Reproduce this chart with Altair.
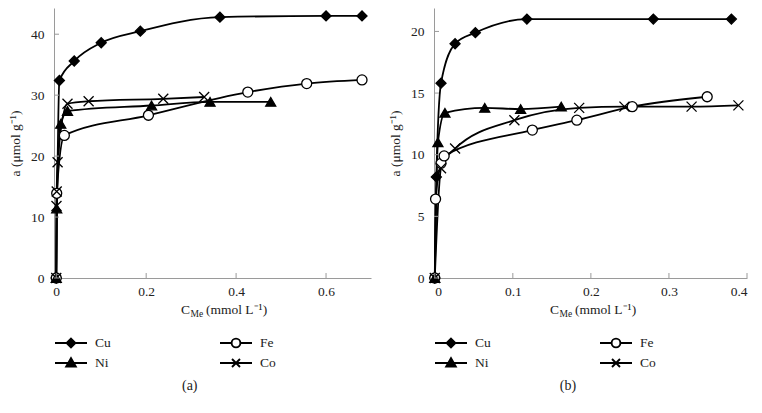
import altair as alt
import pandas as pd

SERIES = ["Cu", "Fe", "Ni", "Co"]

# ---- panel (a) ----
a_cu_x = [0, 0.007, 0.04, 0.1, 0.187, 0.364, 0.6, 0.68]
a_cu_y = [0, 32.4, 35.6, 38.6, 40.5, 42.8, 43.0, 43.0]
a_fe_x = [0, 0.001, 0.018, 0.205, 0.426, 0.557, 0.68]
a_fe_y = [0, 13.9, 23.4, 26.7, 30.5, 31.9, 32.5]
a_ni_x = [0, 0.001, 0.01, 0.025, 0.212, 0.342, 0.477]
a_ni_y = [0, 11.4, 25.3, 27.4, 28.3, 28.9, 28.9]
a_co_x = [0, 0.0005, 0.001, 0.003, 0.025, 0.072, 0.238, 0.329]
a_co_y = [0, 11.8, 14.2, 19.0, 28.6, 29.0, 29.4, 29.7]

# ---- panel (b) ----
b_cu_x = [0, 0.002, 0.008, 0.026, 0.052, 0.118, 0.28, 0.38]
b_cu_y = [0, 8.2, 15.8, 19.0, 19.9, 21.0, 21.0, 21.0]
b_fe_x = [0, 0.001, 0.008, 0.012, 0.125, 0.182, 0.253, 0.349]
b_fe_y = [0, 6.4, 9.3, 9.9, 12.0, 12.8, 13.9, 14.7]
b_ni_x = [0, 0.004, 0.013, 0.064, 0.11, 0.162]
b_ni_y = [0, 11.0, 13.4, 13.8, 13.7, 13.9]
b_co_x = [0, 0.008, 0.026, 0.102, 0.185, 0.243, 0.329, 0.389]
b_co_y = [0, 8.9, 10.5, 12.8, 13.8, 13.9, 13.9, 14.0]

a_xticks = [0, 0.2, 0.4, 0.6]
a_yticks = [0, 10, 20, 30, 40]
b_xticks = [0, 0.1, 0.2, 0.3, 0.4]
b_yticks = [0, 5, 10, 15, 20]

legend_names = ["Cu", "Fe", "Ni", "Co"]
legend_col = [0, 1, 0, 1]
legend_row = [0, 0, 1, 1]

FONT = "Liberation Serif"
GRAY = "#9a9a9a"
X_PATH = "M-1,-1L1,1M-1,1L1,-1"
SHAPES = ["diamond", "circle", "triangle-up", X_PATH]
FILLS = ["black", "white", "black", "transparent"]
LEG_SHAPES = [
    "M-4,0L4,0M0,-1.1L1.1,0L0,1.1L-1.1,0Z",
    "M-4,0L-1.1,0M1.1,0L4,0M1.1,0A1.1,1.1,0,1,1,-1.1,0A1.1,1.1,0,1,1,1.1,0Z",
    "M-4,0L4,0M-1.2,0.9L1.2,0.9L0,-1.2Z",
    "M-4,0L4,0M-1,-1L1,1M-1,1L1,-1",
]


def frame(cu, fe, ni, co):
    rows = []
    for name, (xs, ys) in zip(SERIES, [cu, fe, ni, co]):
        for i, (x, y) in enumerate(zip(xs, ys)):
            rows.append({"s": name, "x": x, "y": y, "i": i})
    return pd.DataFrame(rows)


def panel(df, xdom, ydom, xticks, yticks, W, H, xt_left):
    xs = alt.Scale(domain=xdom, nice=False, zero=False)
    ys = alt.Scale(domain=ydom, nice=False, zero=False)
    xaxis = alt.Axis(values=xticks, title=None, ticks=False, grid=False,
                     labelPadding=6, domainColor=GRAY,
                     labelExpr="datum.value == 0 ? '0' : format(datum.value, '.1f')")
    yaxis = alt.Axis(values=yticks, title="a (μmol g⁻¹)", ticks=False, grid=False,
                     labelPadding=10, domainColor=GRAY, titlePadding=8)
    base = alt.Chart(df)
    lines = base.mark_line(interpolate="monotone", color="black", strokeWidth=1.8).encode(
        x=alt.X("x:Q", scale=xs, axis=xaxis),
        y=alt.Y("y:Q", scale=ys, axis=yaxis),
        detail="s:N",
        order="i:Q",
    )
    pts = base.mark_point(filled=True, opacity=1, stroke="black", strokeWidth=1.3).encode(
        x=alt.X("x:Q", scale=xs, axis=xaxis),
        y=alt.Y("y:Q", scale=ys, axis=yaxis),
        shape=alt.Shape("s:N", scale=alt.Scale(domain=SERIES, range=SHAPES), legend=None),
        fill=alt.Fill("s:N", scale=alt.Scale(domain=SERIES, range=FILLS), legend=None),
        size=alt.value(100),
    )
    xt = alt.Chart(pd.DataFrame({"x": xticks})).mark_rule(color=GRAY).encode(
        x=alt.X("x:Q", scale=xs, axis=xaxis), y=alt.value(H), y2=alt.value(H - 5))
    yt = alt.Chart(pd.DataFrame({"y": yticks})).mark_rule(color=GRAY).encode(
        y=alt.Y("y:Q", scale=ys, axis=yaxis), x=alt.value(0), x2=alt.value(5))
    ty = H + 32
    t1 = alt.Chart(pd.DataFrame({"t": ["C"]})).mark_text(
        font=FONT, fontSize=13.5, align="right", baseline="middle", color="#222").encode(
        text="t:N", x=alt.value(xt_left), y=alt.value(ty))
    t2 = alt.Chart(pd.DataFrame({"t": ["Me"]})).mark_text(
        font=FONT, fontSize=9.5, align="left", baseline="middle", color="#222", dy=4).encode(
        text="t:N", x=alt.value(xt_left + 0.5), y=alt.value(ty))
    t3 = alt.Chart(pd.DataFrame({"t": ["(mmol L⁻¹)"]})).mark_text(
        font=FONT, fontSize=13.5, align="left", baseline="middle", color="#222").encode(
        text="t:N", x=alt.value(xt_left + 16), y=alt.value(ty))
    return alt.layer(lines, pts, xt, yt, t1, t2, t3).properties(width=W, height=H)


def legend(W):
    ld = pd.DataFrame({"s": legend_names, "c": legend_col, "r": legend_row})
    xs = alt.Scale(domain=[-17 / 165, (W - 17) / 165], nice=False, zero=False)
    ys = alt.Scale(domain=[-0.5, 1.5], nice=False, zero=False, reverse=True)
    sym = alt.Chart(ld).mark_point(filled=True, opacity=1, stroke="black", strokeWidth=1.9).encode(
        x=alt.X("c:Q", scale=xs, axis=None),
        y=alt.Y("r:Q", scale=ys, axis=None),
        shape=alt.Shape("s:N", scale=alt.Scale(domain=SERIES, range=LEG_SHAPES), legend=None),
        fill=alt.Fill("s:N", scale=alt.Scale(domain=SERIES, range=FILLS), legend=None),
        size=alt.value(64),
    )
    txt = alt.Chart(ld).mark_text(font=FONT, fontSize=13.5, align="left", baseline="middle",
                                  dx=24, color="#222").encode(
        x=alt.X("c:Q", scale=xs, axis=None),
        y=alt.Y("r:Q", scale=ys, axis=None),
        text="s:N",
    )
    return alt.layer(sym, txt).properties(width=W, height=40)


def column(plot, leg, cap):
    return alt.vconcat(plot, leg, spacing=14).resolve_scale(
        shape="independent", fill="independent"
    ).properties(
        title=alt.TitleParams(cap, orient="bottom", anchor="middle", fontSize=14,
                              font=FONT, fontWeight="normal", color="#222", offset=6))


WA, WB, H = 317, 313, 270
pa = panel(frame((a_cu_x, a_cu_y), (a_fe_x, a_fe_y), (a_ni_x, a_ni_y), (a_co_x, a_co_y)),
           [-0.005, 0.7], [0, 44.3], a_xticks, a_yticks, WA, H, 136)
pb = panel(frame((b_cu_x, b_cu_y), (b_fe_x, b_fe_y), (b_ni_x, b_ni_y), (b_co_x, b_co_y)),
           [-0.001, 0.4], [0, 21.9], b_xticks, b_yticks, WB, H, 125)

chart = alt.hconcat(column(pa, legend(WA), "(a)"), column(pb, legend(WB), "(b)"),
                    spacing=17).resolve_scale(
    shape="independent", fill="independent"
).properties(padding=0).configure_view(
    stroke=None
).configure_axis(
    labelFont=FONT, titleFont=FONT, labelFontSize=13.5, titleFontSize=13.5,
    labelColor="#222", titleColor="#222", titleFontWeight="normal"
)

chart.save("out.html", embed_options={"renderer": "svg", "actions": False})
